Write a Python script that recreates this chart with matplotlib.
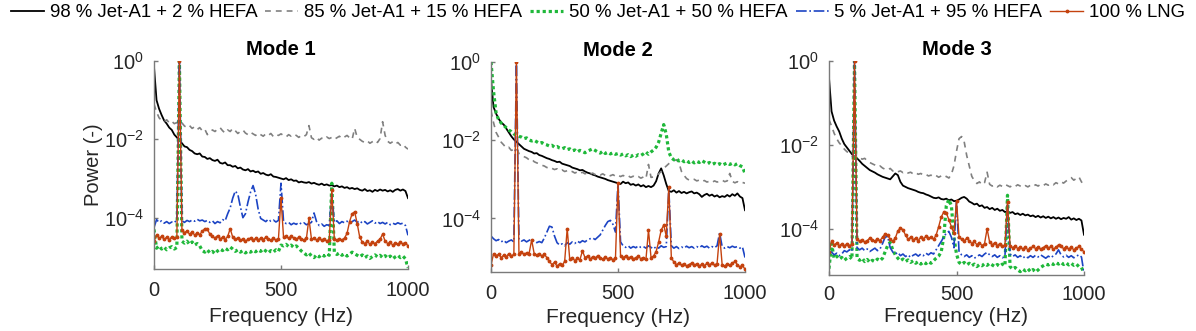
import numpy as np
import matplotlib
matplotlib.use("Agg")
import matplotlib.pyplot as plt
from matplotlib.ticker import FixedLocator, NullLocator, LogFormatterSciNotation

plt.rcParams['font.family'] = ['Liberation Sans', 'DejaVu Sans']
plt.rcParams['mathtext.fontset'] = 'custom'
plt.rcParams['mathtext.rm'] = 'Liberation Sans'
plt.rcParams['mathtext.it'] = 'Liberation Sans:italic'
plt.rcParams['mathtext.bf'] = 'Liberation Sans:bold'
plt.rcParams['mathtext.default'] = 'regular'

# ---------------- data (log10 of power) ----------------
freq_hz = np.arange(0, 1001, 10)

series_labels = ['98 % Jet-A1 + 2 % HEFA', '85 % Jet-A1 + 15 % HEFA',
                 '50 % Jet-A1 + 50 % HEFA', '5 % Jet-A1 + 95 % HEFA', '100 % LNG']
mode_titles = ['Mode 1', 'Mode 2', 'Mode 3']
x_ticks = [0, 500, 1000]
y_ticks = [1e-4, 1e-2, 1e0]

# ---- Mode 1 ----
mode1_jet98_log = [
    -0.15, -1.0, -1.22, -1.38, -1.52, -1.6, -1.7, -1.76, -1.88, -1.95,
    -2.02, -2.1, -2.18, -2.2, -2.27, -2.3, -2.36, -2.38, -2.36, -2.44,
    -2.45, -2.5, -2.48, -2.53, -2.55, -2.52, -2.6, -2.62, -2.59, -2.66,
    -2.66, -2.7, -2.68, -2.74, -2.72, -2.77, -2.79, -2.76, -2.82, -2.8,
    -2.84, -2.82, -2.88, -2.86, -2.9, -2.92, -2.89, -2.95, -2.96, -2.98,
    -3.0, -3.02, -2.99, -3.04, -3.02, -3.06, -3.05, -3.1, -3.08, -3.1,
    -3.11, -3.09, -3.13, -3.11, -3.14, -3.16, -3.13, -3.17, -3.15, -3.18,
    -3.17, -3.2, -3.18, -3.22, -3.2, -3.24, -3.22, -3.26, -3.24, -3.27,
    -3.25, -3.29, -3.31, -3.27, -3.32, -3.3, -3.34, -3.29, -3.32, -3.28,
    -3.31, -3.29, -3.33, -3.3, -3.34, -3.29, -3.27, -3.31, -3.28, -3.32,
    -3.5]
mode1_jet85_log = [
    -1.1, -1.3, -1.45, -1.52, -1.55, -1.5, -1.58, -1.54, -1.6, -1.57,
    -1.62, -1.58, -1.66, -1.7, -1.65, -1.72, -1.68, -1.75, -1.7, -1.78,
    -1.74, -1.88, -1.82, -1.76, -1.8, -1.74, -1.7, -1.78, -1.84, -1.76,
    -1.8, -1.72, -1.78, -1.85, -1.8, -1.76, -1.84, -1.88, -1.82, -1.86,
    -1.9, -1.84, -1.88, -1.92, -1.86, -1.9, -1.85, -1.93, -1.88, -1.9,
    -1.86, -1.9, -1.94, -1.88, -1.92, -1.87, -1.9, -1.95, -1.9, -1.93,
    -1.88, -1.65, -1.96, -2.0, -1.95, -2.02, -1.97, -2.0, -1.94, -1.98,
    -1.95, -2.0, -1.96, -1.92, -1.98, -1.94, -1.9, -1.96, -2.0, -1.72,
    -1.95, -2.0, -2.05, -2.08, -2.04, -2.1, -2.06, -2.02, -2.08, -1.98,
    -1.55, -1.9, -2.05, -2.1, -2.06, -2.12, -2.08, -2.15, -2.12, -2.2,
    -2.25]
mode1_jet50_log = [
    -4.3, -4.78, -4.72, -4.8, -4.75, -4.82, -4.77, -4.74, -4.8, -4.76,
    0.0, -4.6, -4.65, -4.6, -4.68, -4.62, -4.7, -4.66, -4.72, -4.84,
    -4.88, -4.82, -4.9, -4.86, -4.92, -4.85, -4.8, -4.84, -4.78, -4.82,
    -4.75, -4.8, -4.86, -4.82, -4.88, -4.84, -4.9, -4.85, -4.88, -4.83,
    -4.87, -4.82, -4.86, -4.8, -4.85, -4.9, -4.84, -4.88, -4.82, -4.86,
    -4.7, -4.72, -4.68, -4.74, -4.7, -4.76, -4.72, -4.78, -4.85, -4.9,
    -4.95, -4.9, -4.98, -5.02, -4.95, -5.0, -4.94, -4.98, -4.92, -4.96,
    -3.12, -4.88, -4.94, -4.9, -4.96, -4.92, -4.98, -4.93, -4.88, -4.92,
    -4.96, -5.0, -4.95, -5.02, -4.98, -5.04, -4.99, -4.95, -5.0, -4.96,
    -5.02, -4.97, -5.03, -4.98, -5.05, -5.0, -4.96, -5.02, -4.98, -5.05,
    -5.28]
mode1_jet5_log = [
    -4.25, -4.05, -4.12, -4.08, -4.14, -4.1, -4.15, -4.11, -4.13, -4.05,
    0.0, -4.08, -4.12, -4.07, -4.1, -4.06, -4.09, -4.04, -4.08, -4.06,
    -4.1, -4.07, -4.12, -4.08, -4.15, -4.1, -4.13, -4.05, -4.08, -3.9,
    -3.75, -3.5, -3.32, -3.4, -3.72, -4.0, -3.9, -3.6, -3.35, -3.18,
    -3.4, -3.78, -4.02, -4.06, -4.1, -4.04, -4.09, -4.06, -4.11, -4.07,
    -3.12, -4.1, -4.15, -4.12, -4.18, -4.14, -4.17, -4.12, -4.16, -4.13,
    -4.18, -4.15, -4.12, -3.88, -4.1, -4.2, -4.16, -4.22, -4.18, -4.2,
    -3.4, -4.12, -4.08, -4.15, -4.1, -4.13, -4.09, -4.14, -4.1, -4.06,
    -4.12, -4.08, -4.14, -4.1, -4.16, -4.12, -4.08, -4.14, -4.1, -4.15,
    -4.12, -4.16, -4.12, -4.18, -4.14, -4.17, -4.13, -4.16, -4.14, -4.2,
    -4.45]
mode1_lng_log = [
    -4.6, -4.45, -4.52, -4.48, -4.55, -4.5, -4.56, -4.49, -4.53, -4.5,
    0.0, -4.32, -4.38, -4.34, -4.42, -4.37, -4.44, -4.4, -4.43, -4.35,
    -4.28, -4.3, -4.42, -4.48, -4.52, -4.46, -4.54, -4.5, -4.56, -4.48,
    -4.28, -4.5, -4.55, -4.52, -4.58, -4.54, -4.6, -4.55, -4.52, -4.57,
    -4.53, -4.58, -4.52, -4.56, -4.5, -4.55, -4.58, -4.53, -4.57, -4.54,
    -3.5, -4.5, -4.48, -4.53, -4.47, -4.52, -4.55, -4.5, -4.54, -4.57,
    -4.53, -4.02, -4.55, -4.52, -4.57, -4.53, -4.58, -4.54, -4.6, -4.56,
    -3.3, -4.55, -4.58, -4.54, -4.57, -4.52, -4.4, -4.1, -3.9, -3.85,
    -4.15, -4.5, -4.62, -4.66, -4.6, -4.68, -4.63, -4.66, -4.6, -4.55,
    -4.42, -4.6, -4.66, -4.63, -4.7, -4.65, -4.68, -4.63, -4.67, -4.64,
    -4.72]

# ---- Mode 2 ----
mode2_jet98_log = [
    -0.45, -1.15, -1.32, -1.45, -1.55, -1.6, -1.7, -1.8, -1.9, -1.98,
    -2.04, -2.1, -2.16, -2.22, -2.25, -2.28, -2.3, -2.34, -2.33, -2.38,
    -2.4, -2.43, -2.46, -2.48, -2.51, -2.53, -2.56, -2.55, -2.6, -2.62,
    -2.64, -2.66, -2.7, -2.72, -2.74, -2.77, -2.76, -2.8, -2.83, -2.85,
    -2.88, -2.9, -2.93, -2.95, -2.97, -2.99, -3.02, -3.04, -3.06, -3.08,
    -3.1, -3.12, -3.06, -3.1, -3.08, -3.14, -3.12, -3.16, -3.13, -3.18,
    -3.15, -3.2, -3.17, -3.2, -3.16, -3.05, -2.85, -2.72, -2.9, -3.12,
    -3.3, -3.32, -3.28, -3.34, -3.3, -3.35, -3.32, -3.36, -3.33, -3.31,
    -3.36, -3.34, -3.38, -3.45, -3.4, -3.37, -3.42, -3.39, -3.44, -3.41,
    -3.46, -3.43, -3.45, -3.4, -3.44, -3.38, -3.42, -3.36, -3.44, -3.48,
    -3.79]
mode2_jet85_log = [
    -1.25, -1.55, -1.8, -1.92, -2.05, -2.12, -2.2, -2.18, -2.26, -2.24,
    -2.2, -2.34, -2.38, -2.42, -2.45, -2.5, -2.48, -2.55, -2.58, -2.6,
    -2.64, -2.66, -2.7, -2.68, -2.72, -2.75, -2.73, -2.78, -2.76, -2.8,
    -2.78, -2.82, -2.8, -2.84, -2.81, -2.85, -2.82, -2.86, -2.83, -2.87,
    -2.84, -2.88, -2.85, -2.89, -2.86, -2.9, -2.87, -2.91, -2.88, -2.92,
    -2.89, -2.93, -2.9, -2.94, -2.91, -2.95, -2.92, -2.96, -2.93, -2.97,
    -2.94, -2.98, -2.62, -2.95, -2.94, -2.92, -2.86, -2.8, -2.72, -2.66,
    -2.6, -2.55, -2.52, -2.5, -2.58, -2.8, -2.9, -2.98, -3.02, -2.99,
    -3.0, -3.04, -3.02, -3.06, -3.03, -3.07, -3.05, -3.08, -3.04, -3.07,
    -3.05, -3.02, -3.06, -3.04, -2.85, -3.05, -3.09, -3.06, -3.1, -3.08,
    -3.1]
mode2_jet50_log = [
    0.0, -0.75, -1.3, -1.48, -1.56, -1.62, -1.68, -1.74, -1.78, -1.84,
    -1.87, -1.9, -1.92, -1.96, -1.94, -1.99, -2.02, -2.0, -2.04, -2.08,
    -2.06, -2.1, -2.12, -2.15, -2.13, -2.18, -2.16, -2.2, -2.22, -2.19,
    -2.24, -2.22, -2.27, -2.25, -2.3, -2.26, -2.29, -2.32, -2.28, -2.25,
    -2.22, -2.26, -2.3, -2.33, -2.28, -2.34, -2.31, -2.35, -2.32, -2.36,
    -2.34, -2.38, -2.35, -2.4, -2.37, -2.42, -2.38, -2.41, -2.37, -2.39,
    -2.35, -2.3, -2.36, -2.3, -2.25, -2.18, -2.05, -1.82, -1.6, -1.85,
    -2.3, -2.45, -2.5, -2.47, -2.53, -2.5, -2.55, -2.52, -2.57, -2.53,
    -2.58, -2.54, -2.57, -2.52, -2.56, -2.6, -2.57, -2.62, -2.59, -2.63,
    -2.6, -2.64, -2.61, -2.58, -2.62, -2.59, -2.63, -2.6, -2.65, -2.68,
    -2.85]
mode2_jet5_log = [
    -4.45, -4.52, -4.57, -4.54, -4.6, -4.56, -4.62, -4.58, -4.55, -4.6,
    0.0, -4.54, -4.58, -4.55, -4.6, -4.56, -4.53, -4.58, -4.62, -4.59,
    -4.62, -4.5, -4.35, -4.2, -4.22, -4.45, -4.62, -4.68, -4.65, -4.7,
    -4.62, -4.66, -4.6, -4.64, -4.58, -4.62, -4.57, -4.6, -4.55, -4.52,
    -4.5, -4.54, -4.48, -4.42, -4.3, -4.18, -4.08, -4.05, -4.15, -4.35,
    -3.1, -4.6, -4.7, -4.74, -4.7, -4.76, -4.72, -4.75, -4.7, -4.74,
    -4.72, -4.76, -4.7, -4.74, -4.78, -4.72, -4.76, -4.7, -4.74, -4.72,
    -3.25, -4.7, -4.76, -4.72, -4.77, -4.73, -4.76, -4.71, -4.75, -4.72,
    -4.76, -4.72, -4.75, -4.7, -4.74, -4.71, -4.76, -4.72, -4.75, -4.7,
    -4.37, -4.72, -4.76, -4.72, -4.75, -4.71, -4.74, -4.72, -4.76, -4.73,
    -5.0]
mode2_lng_log = [
    -5.2, -4.9, -4.95, -4.92, -5.0, -4.94, -4.98, -4.9, -4.96, -4.92,
    0.0, -4.9, -4.86, -4.92, -4.88, -4.9, -4.55, -4.9, -4.94, -4.9,
    -4.96, -4.92, -5.0, -5.1, -5.18, -5.12, -5.22, -5.16, -5.2, -5.1,
    -4.26, -5.05, -5.0, -5.08, -5.02, -5.06, -4.83, -5.0, -4.96, -5.04,
    -4.98, -5.02, -4.95, -5.0, -5.05, -4.98, -5.04, -5.0, -5.06, -5.02,
    -3.1, -4.95, -5.0, -4.96, -5.02, -4.98, -5.04, -5.0, -4.97, -5.03,
    -5.0, -5.05, -4.3, -5.0, -4.96, -4.85, -4.6, -4.3, -4.17, -4.45,
    -3.2, -5.0, -5.12, -5.18, -5.14, -5.2, -5.16, -5.22, -5.18, -5.14,
    -5.2, -5.16, -5.22, -5.17, -5.21, -5.15, -5.19, -5.14, -5.2, -5.16,
    -4.4, -5.18, -5.22, -5.17, -5.2, -5.15, -5.1, -5.18, -5.24, -5.2,
    -5.3]

# ---- Mode 3 ----
mode3_jet98_log = [
    -0.4, -1.2, -1.42, -1.56, -1.68, -1.85, -1.98, -2.06, -2.14, -2.22,
    -2.28, -2.32, -2.38, -2.45, -2.5, -2.55, -2.6, -2.63, -2.66, -2.7,
    -2.73, -2.76, -2.78, -2.8, -2.82, -2.75, -2.68, -2.72, -2.88, -2.97,
    -3.0, -3.03, -3.05, -3.07, -3.09, -3.12, -3.14, -3.15, -3.18, -3.2,
    -3.23, -3.26, -3.27, -3.25, -3.29, -3.3, -3.28, -3.32, -3.3, -3.34,
    -3.33, -3.3, -3.26, -3.24, -3.28, -3.35, -3.38, -3.42, -3.4, -3.46,
    -3.44, -3.5, -3.48, -3.53, -3.5, -3.55, -3.52, -3.57, -3.55, -3.6,
    -3.58, -3.62, -3.6, -3.65, -3.63, -3.67, -3.64, -3.68, -3.66, -3.7,
    -3.68, -3.72, -3.69, -3.73, -3.7, -3.74, -3.71, -3.75, -3.72, -3.76,
    -3.73, -3.77, -3.74, -3.76, -3.72, -3.78, -3.75, -3.79, -3.76, -3.8,
    -4.14]
mode3_jet85_log = [
    -1.4, -1.55, -1.72, -1.85, -1.95, -2.02, -2.1, -2.16, -2.2, -2.26,
    -2.28, -2.25, -2.3, -2.34, -2.32, -2.38, -2.42, -2.45, -2.48, -2.52,
    -2.5, -2.55, -2.58, -2.6, -2.56, -2.62, -2.6, -2.64, -2.62, -2.66,
    -2.63, -2.67, -2.65, -2.69, -2.66, -2.7, -2.68, -2.72, -2.7, -2.74,
    -2.72, -2.76, -2.73, -2.77, -2.74, -2.78, -2.75, -2.79, -2.7, -2.5,
    -2.15, -1.85, -1.8, -1.92, -2.25, -2.5, -2.75, -2.85, -2.92, -2.88,
    -2.95, -2.9, -2.65, -2.94, -2.98, -2.95, -3.0, -2.96, -2.99, -2.94,
    -2.97, -3.0, -2.96, -2.99, -2.95, -2.98, -3.01, -2.97, -3.0, -2.96,
    -2.99, -2.95, -2.98, -2.94, -2.97, -2.93, -2.96, -2.92, -2.95, -2.9,
    -2.93, -2.88, -2.91, -2.86, -2.82, -2.78, -2.84, -2.8, -2.76, -2.88,
    -2.95]
mode3_jet50_log = [
    -4.95, -4.35, -4.7, -4.65, -4.72, -4.68, -4.75, -4.7, -4.66, -4.72,
    0.0, -4.7, -4.75, -4.7, -4.78, -4.73, -4.8, -4.75, -4.78, -4.72,
    -4.76, -4.7, -4.55, -4.4, -4.32, -4.5, -4.62, -4.7, -4.76, -4.72,
    -4.78, -4.74, -4.8, -4.76, -4.82, -4.78, -4.84, -4.79, -4.83, -4.78,
    -4.82, -4.76, -4.7, -4.65, -4.55, -4.2, -3.45, -3.3, -3.45, -4.2,
    -4.6, -4.8, -4.85, -4.8, -4.86, -4.82, -4.88, -4.84, -4.9, -4.85,
    -4.88, -4.83, -4.87, -4.82, -4.86, -4.9, -4.85, -4.89, -4.84, -4.88,
    -3.2, -4.9, -4.96, -4.92, -4.98, -5.02, -4.96, -5.0, -4.95, -5.02,
    -4.97, -5.03, -4.98, -4.92, -4.88, -4.84, -4.86, -4.82, -4.85, -4.8,
    -4.84, -4.8, -4.85, -4.81, -4.86, -4.82, -4.87, -4.84, -4.9, -4.92,
    -5.05]
mode3_jet5_log = [
    -4.6, -4.55, -4.62, -4.58, -4.64, -4.6, -4.52, -4.55, -4.5, -4.54,
    0.0, -4.45, -4.5, -4.46, -4.52, -4.48, -4.54, -4.5, -4.46, -4.52,
    -4.48, -4.35, -4.2, -4.18, -4.45, -4.55, -4.6, -4.56, -4.64, -4.6,
    -4.66, -4.62, -4.68, -4.63, -4.6, -4.65, -4.6, -4.64, -4.58, -4.62,
    -4.57, -4.6, -4.5, -4.4, -4.3, -4.2, -4.1, -4.06, -4.2, -4.45,
    -3.33, -4.55, -4.62, -4.66, -4.62, -4.68, -4.64, -4.7, -4.66, -4.62,
    -4.66, -4.6, -4.56, -4.62, -4.66, -4.62, -4.68, -4.64, -4.69, -4.65,
    -3.4, -4.6, -4.66, -4.62, -4.68, -4.64, -4.7, -4.65, -4.69, -4.64,
    -4.68, -4.63, -4.67, -4.62, -4.66, -4.7, -4.65, -4.69, -4.64, -4.6,
    -4.5, -4.62, -4.67, -4.63, -4.68, -4.64, -4.69, -4.65, -4.62, -4.67,
    -5.05]
mode3_lng_log = [
    -4.55, -4.3, -4.38, -4.34, -4.4, -4.36, -4.42, -4.35, -4.4, -4.37,
    0.0, -4.25, -4.3, -4.26, -4.32, -4.28, -4.22, -4.27, -4.3, -4.24,
    -4.28, -4.2, -4.12, -4.15, -4.25, -4.3, -4.22, -4.05, -3.98, -4.02,
    -4.15, -4.25, -4.2, -4.26, -4.22, -4.28, -4.2, -4.24, -4.18, -4.23,
    -4.2, -4.25, -4.15, -3.95, -3.72, -3.6, -3.62, -3.78, -3.95, -4.1,
    -3.33, -4.2, -4.25, -4.3, -4.22, -4.28, -4.35, -4.3, -4.38, -4.33,
    -4.4, -4.35, -4.0, -4.32, -4.38, -4.33, -4.4, -4.35, -4.42, -4.38,
    -3.35, -4.4, -4.45, -4.41, -4.47, -4.43, -4.48, -4.44, -4.5, -4.46,
    -4.42, -4.47, -4.43, -4.49, -4.45, -4.4, -4.46, -4.42, -4.48, -4.44,
    -4.38, -4.42, -4.47, -4.43, -4.48, -4.44, -4.5, -4.46, -4.42, -4.48,
    -4.55]

modes_data = [
    [mode1_jet98_log, mode1_jet85_log, mode1_jet50_log, mode1_jet5_log, mode1_lng_log],
    [mode2_jet98_log, mode2_jet85_log, mode2_jet50_log, mode2_jet5_log, mode2_lng_log],
    [mode3_jet98_log, mode3_jet85_log, mode3_jet50_log, mode3_jet5_log, mode3_lng_log],
]
for m in modes_data:
    for s in m:
        assert len(s) == len(freq_hz), len(s)

# ---------------- styling ----------------
styles = [
    dict(color='black', lw=1.3, ls='-'),
    dict(color='#808080', lw=1.2, ls=(0, (3.5, 3.0))),
    dict(color='#1fb83a', lw=2.3, ls=(0, (1.0, 0.9))),
    dict(color='#1c44c4', lw=1.2, ls='-.'),
    dict(color='#c4420e', lw=1.0, ls='-', marker='.', ms=3.5),
]

axes_rects = [
    [154 / 1196, 1 - 269 / 331, 254 / 1196, 208 / 331],
    [491 / 1196, 1 - 272 / 331, 254 / 1196, 210 / 331],
    [829 / 1196, 1 - 275 / 331, 255 / 1196, 214 / 331],
]
y_bottoms = [10 ** -5.31, 10 ** -5.37, 10 ** -5.1]
xlabel_pads = [5, 3.5, 1.5]
xtick_pads = [9, 8.5, 7.5]

fig = plt.figure(figsize=(11.96, 3.31), dpi=100)
axis_col = '#7a7a7a'
text_col = '#262626'

handles = []
for k in range(3):
    ax = fig.add_axes(axes_rects[k])
    for j, (s, st) in enumerate(zip(modes_data[k], styles)):
        ln, = ax.plot(freq_hz, 10 ** np.asarray(s), label=series_labels[j], **st)
        if k == 0:
            handles.append(ln)
    ax.set_yscale('log')
    ax.set_xlim(0, 1000)
    ax.set_ylim(y_bottoms[k], 1.0)
    ax.xaxis.set_major_locator(FixedLocator(x_ticks))
    ax.yaxis.set_major_locator(FixedLocator(y_ticks))
    ax.yaxis.set_major_formatter(LogFormatterSciNotation())
    ax.yaxis.set_minor_locator(NullLocator())
    for sp in ['top', 'right']:
        ax.spines[sp].set_visible(False)
    for sp in ['left', 'bottom']:
        ax.spines[sp].set_color(axis_col)
        ax.spines[sp].set_linewidth(1.0)
    ax.tick_params(axis='x', direction='in', length=3, width=1, color=axis_col,
                   labelsize=14.5, labelcolor=text_col, pad=xtick_pads[k])
    ax.tick_params(axis='y', direction='in', length=3, width=1, color=axis_col,
                   labelsize=14.5, labelcolor=text_col, pad=7)
    ax.set_title(mode_titles[k], fontsize=14.6, fontweight='bold', pad=4, color='black')
    ax.set_xlabel('Frequency (Hz)', fontsize=15, color=text_col, labelpad=xlabel_pads[k])
    if k == 0:
        ax.set_ylabel('Power (-)', fontsize=14.5, color=text_col, labelpad=1)

fig.legend(handles, series_labels, loc='center', bbox_to_anchor=(0.5, 0.962),
           ncol=5, frameon=False, fontsize=13.4, handlelength=1.77,
           handletextpad=0.32, columnspacing=0.43, borderaxespad=0, borderpad=0)

fig.savefig('out.png', dpi=100)
